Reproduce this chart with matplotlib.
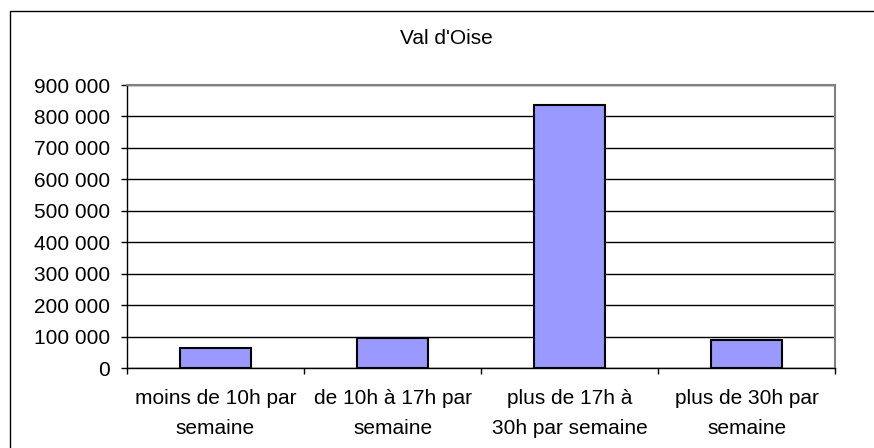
import matplotlib.pyplot as plt
from matplotlib.patches import Rectangle
from matplotlib.ticker import FuncFormatter

plt.rcParams['font.family'] = ['Liberation Sans', 'DejaVu Sans']

categories = ['moins de 10h par\nsemaine', 'de 10h à 17h par\nsemaine',
              'plus de 17h à\n30h par semaine', 'plus de 30h par\nsemaine']
values = [63000, 94000, 836000, 88000]
title = "Val d'Oise"

W, H = 874, 448
fs = 15
fig = plt.figure(figsize=(W / 100, H / 100), dpi=100)
ax = fig.add_axes([127 / W, 1 - 368 / H, (835 - 127) / W, (368 - 85) / H])

x = list(range(len(categories)))
ax.bar(x, values, width=0.4, color='#9999ff', edgecolor='black', linewidth=1.5, zorder=3)

ax.set_xlim(-0.5, len(categories) - 0.5)
ax.set_ylim(0, 900000)
ax.set_yticks(range(0, 900001, 100000))
ax.yaxis.set_major_formatter(FuncFormatter(lambda v, p: f'{int(v):,}'.replace(',', ' ')))
ax.grid(axis='y', color='black', linewidth=1, zorder=0)

ax.set_xticks([-0.5, 0.5, 1.5, 2.5, 3.5])
ax.set_xticklabels([])
ax.set_xticks(x, minor=True)
ax.set_xticklabels(categories, minor=True, fontsize=fs, linespacing=1.75)
ax.tick_params(axis='x', which='minor', length=0, pad=15)
ax.tick_params(axis='x', which='major', length=4, width=1, direction='out')
ax.tick_params(axis='y', length=4, width=1, direction='out', pad=8.5, labelsize=fs)

for side in ['top', 'right']:
    ax.spines[side].set_color('#808080')
    ax.spines[side].set_linewidth(1.5)
for side in ['left', 'bottom']:
    ax.spines[side].set_color('black')
    ax.spines[side].set_linewidth(1)

fig.text(446 / W, 1 - 38 / H, title, ha='center', va='center', fontsize=fs)

# chart area border (right and bottom edges fall outside the picture)
fig.patches.append(Rectangle((10 / W, -0.1), 1.2, 1 - 11 / H + 0.1,
                             transform=fig.transFigure, fill=False,
                             edgecolor='black', linewidth=1))

fig.savefig('out.png', dpi=100)
